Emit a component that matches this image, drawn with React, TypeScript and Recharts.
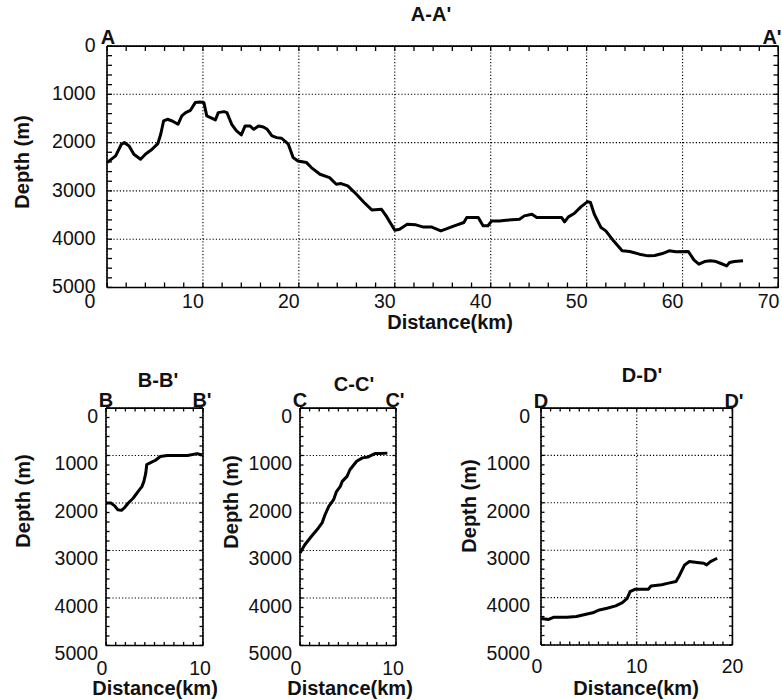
import React from 'react';
import { LineChart, Line, XAxis, YAxis, CartesianGrid, ReferenceLine } from 'recharts';

const FONT = '"Liberation Sans", Arial, Helvetica, sans-serif';

// ---------- data ----------
const aDist = [0, 0.9, 1.5, 1.8, 2.3, 2.8, 3.5, 4.0, 4.7, 5.3, 5.6, 5.9, 6.3, 6.8, 7.4, 7.8, 8.2, 8.7, 9.2, 9.7, 10.1, 10.4, 10.8, 11.3, 11.6, 12.2, 12.5, 13.0, 13.5, 14.0, 14.4, 14.9, 15.3, 15.8, 16.3, 16.7, 17.2, 17.7, 18.2, 18.9, 19.4, 19.9, 20.8, 21.3, 22.2, 23.2, 23.9, 24.4, 25.1, 26.0, 26.8, 27.6, 28.6, 29.1, 30.0, 30.5, 31.3, 32.2, 32.9, 33.8, 34.8, 35.3, 36.2, 37.2, 37.5, 38.7, 39.2, 39.7, 40.1, 40.9, 41.6, 43.0, 43.5, 44.3, 44.8, 46.4, 47.4, 47.7, 48.1, 48.7, 49.4, 50.1, 50.4, 50.8, 51.5, 52.0, 52.8, 53.7, 54.5, 55.5, 56.4, 57.1, 57.9, 58.6, 59.3, 60.6, 61.2, 61.7, 62.3, 62.9, 63.5, 64.0, 64.6, 64.9, 65.4, 66.3];
const aDepth = [2414, 2276, 2034, 2000, 2069, 2241, 2345, 2241, 2138, 2020, 1828, 1552, 1517, 1552, 1621, 1448, 1379, 1331, 1172, 1159, 1172, 1448, 1483, 1531, 1379, 1359, 1379, 1621, 1759, 1841, 1655, 1655, 1724, 1655, 1676, 1724, 1862, 1897, 1910, 2034, 2310, 2379, 2414, 2517, 2655, 2724, 2862, 2848, 2897, 3069, 3241, 3393, 3379, 3517, 3814, 3793, 3690, 3703, 3745, 3745, 3828, 3793, 3724, 3655, 3552, 3552, 3724, 3724, 3621, 3621, 3607, 3586, 3517, 3483, 3552, 3552, 3552, 3641, 3538, 3469, 3331, 3221, 3241, 3483, 3759, 3828, 4034, 4241, 4255, 4310, 4345, 4338, 4297, 4241, 4262, 4255, 4434, 4517, 4462, 4448, 4462, 4503, 4552, 4483, 4462, 4448];

const bDist = [0, 0.5, 0.9, 1.2, 1.6, 1.9, 2.3, 2.8, 3.3, 3.7, 3.9, 4.1, 4.2, 4.5, 5.1, 5.6, 6.3, 8.4, 9.4, 9.9];
const bDepth = [2000, 2000, 2060, 2140, 2155, 2100, 2000, 1900, 1760, 1655, 1550, 1370, 1190, 1160, 1100, 1020, 1000, 1000, 960, 990];

const cDist = [0, 0.5, 1.2, 1.9, 2.3, 2.6, 3.0, 3.5, 3.8, 4.2, 4.4, 4.9, 5.2, 5.9, 6.5, 7.1, 7.8, 8.4, 9.1];
const cDepth = [3055, 2880, 2700, 2530, 2420, 2250, 2070, 1930, 1760, 1650, 1545, 1440, 1300, 1120, 1050, 1030, 960, 960, 950];

const dDist = [0, 0.8, 1.3, 2.7, 3.7, 4.7, 5.4, 6.1, 6.9, 7.8, 8.5, 9.0, 9.3, 9.8, 11.2, 11.5, 12.6, 13.2, 14.1, 14.4, 15.0, 15.5, 16.3, 17.0, 17.3, 17.7, 18.4];
const dDepth = [4440, 4460, 4415, 4415, 4400, 4350, 4320, 4260, 4225, 4175, 4105, 4015, 3875, 3825, 3825, 3755, 3730, 3700, 3660, 3555, 3310, 3240, 3260, 3275, 3310, 3240, 3170];

// ---------- ticks ----------
const depthTicks = [0, 1000, 2000, 3000, 4000, 5000];
const aDistTicks = [0, 10, 20, 30, 40, 50, 60, 70];
const bDistTicks = [0, 10];
const cDistTicks = [0, 10];
const dDistTicks = [0, 10, 20];

const range = (a: number, b: number, s: number) => {
  const out: number[] = [];
  for (let v = a; v <= b + 1e-9; v += s) out.push(Math.round(v * 1000) / 1000);
  return out;
};
const depthMinor = range(0, 5000, 200);

type PanelProps = {
  dist: number[];
  depth: number[];
  plotL: number;
  plotT: number;
  plotR: number;
  plotB: number;
  xMax: number;
  xMajor: number[];
  xMinor: number[];
  tickLen: number;
  xDx: number;
  x0Dx: number;
  xDy: number;
  yGap: number;
  yDy: number;
};

function Panel(p: PanelProps) {
  const padL = 100, padT = 20, padR = 12, padB = 50;
  const pw = p.plotR - p.plotL;
  const ph = p.plotB - p.plotT;
  const W = pw + padL + padR;
  const H = ph + padT + padB;
  const n = Math.min(p.dist.length, p.depth.length);
  const data = p.dist.slice(0, n).map((x, i) => ({ x, y: p.depth[i] }));
  const border = { stroke: '#000', strokeWidth: 1.6 };
  // tick length in data units, drawn through the chart's scales
  const tickDy = (p.tickLen / ph) * 5000;
  const tickDx = (p.tickLen / pw) * p.xMax;
  // a hair inside the domain edge so the frame lines are not discarded
  const epsY = 5000 * 0.0004;
  const epsX = p.xMax * 0.0004;
  const XTick = (t: any) => (
    <text
      x={t.x + p.xDx + (t.payload.value === 0 ? p.x0Dx : 0)}
      y={t.y + p.xDy}
      dy="0.35em"
      textAnchor="middle"
      fontSize={19.5}
      fontFamily={FONT}
      fill="#111"
    >
      {t.payload.value}
    </text>
  );
  const YTick = (t: any) => (
    <text
      x={t.x - p.yGap}
      y={t.y + p.yDy}
      dy="0.35em"
      textAnchor="end"
      fontSize={19.5}
      fontFamily={FONT}
      fill="#111"
    >
      {t.payload.value}
    </text>
  );
  return (
    <div style={{ position: 'absolute', left: p.plotL - padL, top: p.plotT - padT }}>
      <LineChart
        width={W}
        height={H}
        data={data}
        margin={{ left: padL - 60, top: padT, right: padR, bottom: padB - 30 }}
      >
        <CartesianGrid
          stroke="#000"
          strokeDasharray="1.2 2"
          strokeWidth={1.1}
          verticalValues={p.xMajor}
          horizontalValues={depthTicks}
        />
        <XAxis
          dataKey="x"
          type="number"
          domain={[0, p.xMax]}
          ticks={p.xMajor}
          interval={0}
          tickLine={false}
          tickSize={0}
          tickMargin={0}
          axisLine={border}
          tick={XTick}
          height={30}
        />
        <YAxis
          type="number"
          domain={[0, 5000]}
          reversed
          ticks={depthTicks}
          interval={0}
          tickLine={false}
          tickSize={0}
          tickMargin={0}
          axisLine={border}
          tick={YTick}
          width={60}
        />
        <ReferenceLine y={epsY} stroke="#000" strokeWidth={1.6} />
        <ReferenceLine x={p.xMax - epsX} stroke="#000" strokeWidth={1.6} />
        {p.xMinor.map((v) => (
          <ReferenceLine
            key={'xb' + v}
            segment={[
              { x: Math.min(Math.max(v, epsX), p.xMax - epsX), y: 5000 - epsY },
              { x: Math.min(Math.max(v, epsX), p.xMax - epsX), y: 5000 - tickDy },
            ]}
            stroke="#000"
            strokeWidth={1.3}
          />
        ))}
        {p.xMinor.map((v) => (
          <ReferenceLine
            key={'xt' + v}
            segment={[
              { x: Math.min(Math.max(v, epsX), p.xMax - epsX), y: epsY },
              { x: Math.min(Math.max(v, epsX), p.xMax - epsX), y: tickDy },
            ]}
            stroke="#000"
            strokeWidth={1.3}
          />
        ))}
        {depthMinor.map((v) => (
          <ReferenceLine
            key={'yl' + v}
            segment={[
              { x: epsX, y: Math.min(Math.max(v, epsY), 5000 - epsY) },
              { x: tickDx, y: Math.min(Math.max(v, epsY), 5000 - epsY) },
            ]}
            stroke="#000"
            strokeWidth={1.3}
          />
        ))}
        {depthMinor.map((v) => (
          <ReferenceLine
            key={'yr' + v}
            segment={[
              { x: p.xMax - tickDx, y: Math.min(Math.max(v, epsY), 5000 - epsY) },
              { x: p.xMax - epsX, y: Math.min(Math.max(v, epsY), 5000 - epsY) },
            ]}
            stroke="#000"
            strokeWidth={1.3}
          />
        ))}
        <Line
          dataKey="y"
          type="linear"
          stroke="#000"
          strokeWidth={3}
          strokeLinejoin="round"
          dot={false}
          activeDot={false}
          isAnimationActive={false}
        />
      </LineChart>
    </div>
  );
}

function Txt({
  x,
  y,
  children,
  size = 20,
  bold = true,
  rotate = false,
}: {
  x: number;
  y: number;
  children: React.ReactNode;
  size?: number;
  bold?: boolean;
  rotate?: boolean;
}) {
  return (
    <div
      style={{
        position: 'absolute',
        left: x,
        top: y,
        transform: `translate(-50%, -50%)${rotate ? ' rotate(-90deg)' : ''}`,
        fontFamily: FONT,
        fontSize: size,
        fontWeight: bold ? 700 : 400,
        lineHeight: 1,
        whiteSpace: 'nowrap',
        color: '#111',
      }}
    >
      {children}
    </div>
  );
}

export default function App() {
  return (
    <div
      style={{
        position: 'absolute',
        left: 0,
        top: 0,
        width: 782,
        height: 700,
        background: '#fff',
        overflow: 'hidden',
      }}
    >
      {/* A-A' */}
      <Panel
        dist={aDist}
        depth={aDepth}
        plotL={106.5}
        plotT={46}
        plotR={778}
        plotB={287.5}
        xMax={70}
        xMajor={aDistTicks}
        xMinor={range(0, 70, 2)}
        tickLen={5}
        xDx={-10}
        x0Dx={-7}
        xDy={13.5}
        yGap={11.5}
        yDy={-1}
      />
      <Txt x={431} y={14}>A-A'</Txt>
      <Txt x={108} y={37}>A</Txt>
      <Txt x={772} y={37}>A'</Txt>
      <Txt x={22} y={162} rotate>Depth (m)</Txt>
      <Txt x={450} y={322}>Distance(km)</Txt>

      {/* B-B' */}
      <Panel
        dist={bDist}
        depth={bDepth}
        plotL={106}
        plotT={407.5}
        plotR={203}
        plotB={645}
        xMax={10}
        xMajor={bDistTicks}
        xMinor={range(0, 10, 1)}
        tickLen={3.5}
        xDx={-3}
        x0Dx={-1}
        xDy={23}
        yGap={8}
        yDy={8}
      />
      <Txt x={158} y={380}>B-B'</Txt>
      <Txt x={106} y={400}>B</Txt>
      <Txt x={202} y={400}>B'</Txt>
      <Txt x={23} y={501} rotate>Depth (m)</Txt>
      <Txt x={155} y={688}>Distance(km)</Txt>

      {/* C-C' */}
      <Panel
        dist={cDist}
        depth={cDepth}
        plotL={300}
        plotT={407.5}
        plotR={396}
        plotB={645}
        xMax={10}
        xMajor={cDistTicks}
        xMinor={range(0, 10, 1)}
        tickLen={3.5}
        xDx={-3}
        x0Dx={-1}
        xDy={23}
        yGap={8}
        yDy={8}
      />
      <Txt x={354} y={384}>C-C'</Txt>
      <Txt x={300} y={400}>C</Txt>
      <Txt x={395} y={400}>C'</Txt>
      <Txt x={231} y={502} rotate>Depth (m)</Txt>
      <Txt x={350} y={688}>Distance(km)</Txt>

      {/* D-D' */}
      <Panel
        dist={dDist}
        depth={dDepth}
        plotL={541}
        plotT={408}
        plotR={732.5}
        plotB={645}
        xMax={20}
        xMajor={dDistTicks}
        xMinor={range(0, 20, 1)}
        tickLen={3.5}
        xDx={0}
        x0Dx={-4}
        xDy={21}
        yGap={11}
        yDy={8}
      />
      <Txt x={642} y={375}>D-D'</Txt>
      <Txt x={541} y={401}>D</Txt>
      <Txt x={734} y={401}>D'</Txt>
      <Txt x={469} y={506} rotate>Depth (m)</Txt>
      <Txt x={636} y={688}>Distance(km)</Txt>
    </div>
  );
}
